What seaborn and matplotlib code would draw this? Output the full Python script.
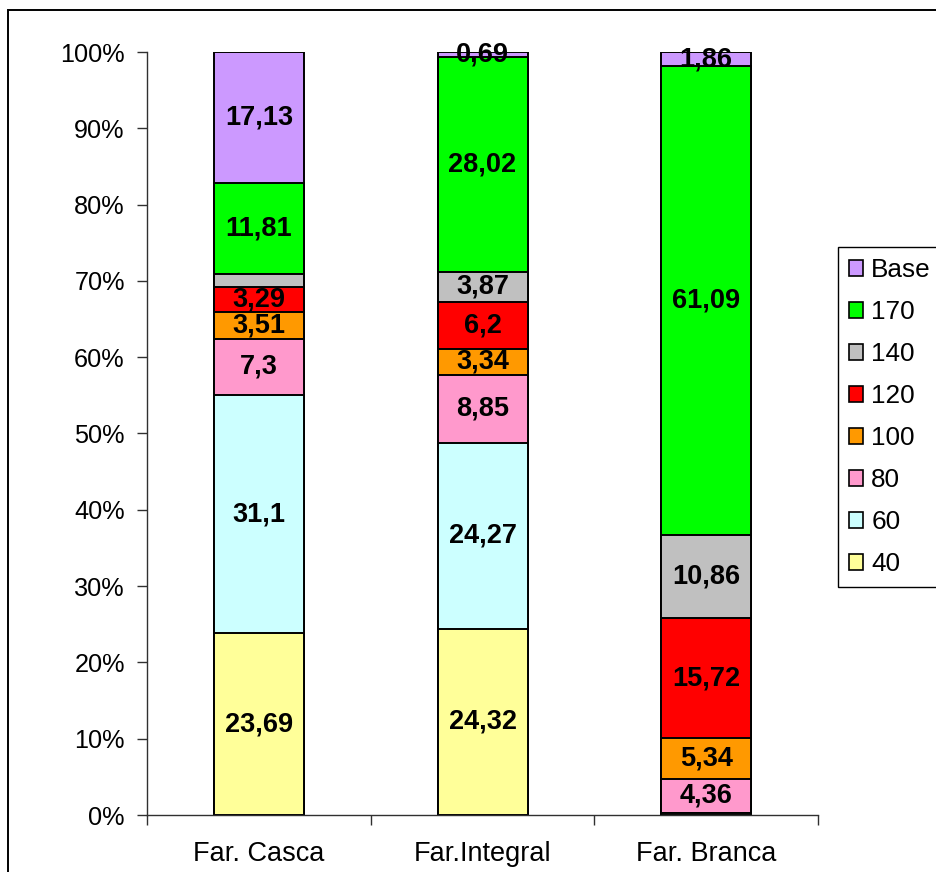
import numpy as np
import pandas as pd
import matplotlib
matplotlib.use("Agg")
import matplotlib.pyplot as plt
from matplotlib.patches import Patch, Rectangle
from matplotlib.ticker import FixedLocator, PercentFormatter
import seaborn as sns

# Flour types and sieve fractions (raw shares, shown as a 100% stack)
categories = ["Far. Casca", "Far.Integral", "Far. Branca"]
fractions = ["40", "60", "80", "100", "120", "140", "170", "Base"]

frac_40 = [23.69, 24.32, 0.20]
frac_60 = [31.10, 24.27, 0.10]
frac_80 = [7.30, 8.85, 4.36]
frac_100 = [3.51, 3.34, 5.34]
frac_120 = [3.29, 6.20, 15.72]
frac_140 = [1.70, 3.87, 10.86]
frac_170 = [11.81, 28.02, 61.09]
frac_base = [17.13, 0.69, 1.86]

# which segments carry a value label
show_label = {
    "40": [True, True, False],
    "60": [True, True, False],
    "80": [True, True, True],
    "100": [True, True, True],
    "120": [True, True, True],
    "140": [False, True, True],
    "170": [True, True, True],
    "Base": [True, True, True],
}

colors = {
    "40": "#FFFF99",
    "60": "#CCFFFF",
    "80": "#FF99CC",
    "100": "#FF9900",
    "120": "#FF0000",
    "140": "#C0C0C0",
    "170": "#00FF00",
    "Base": "#CC99FF",
}

raw = pd.DataFrame(
    [frac_40, frac_60, frac_80, frac_100, frac_120, frac_140, frac_170, frac_base],
    index=fractions, columns=categories,
)
pct = raw / raw.sum(axis=0) * 100
tops = pct.cumsum(axis=0)
bottoms = tops - pct

sns.set_style("white")
plt.rcParams["font.family"] = ["Liberation Sans", "DejaVu Sans"]
plt.rcParams["text.color"] = "black"
plt.rcParams["xtick.color"] = "black"
plt.rcParams["ytick.color"] = "black"

W, H, DPI = 936, 872, 100
fig = plt.figure(figsize=(W / DPI, H / DPI), dpi=DPI)
ax = fig.add_axes([147 / W, 1 - 815 / H, (818 - 147) / W, (815 - 52) / H])

# stacked bars: draw cumulative heights from the top layer down
bar_w = 90 / ((818 - 147) / 3)
for frac in fractions[::-1]:
    df = pd.DataFrame({"cat": categories, "val": tops.loc[frac].values})
    sns.barplot(data=df, x="cat", y="val", order=categories, color=colors[frac],
                saturation=1, width=bar_w, edgecolor="black", linewidth=1.4,
                ax=ax, zorder=2)

# value labels centered in each segment
for frac in fractions:
    for i, cat in enumerate(categories):
        if not show_label[frac][i]:
            continue
        v = raw.loc[frac, cat]
        y = bottoms.loc[frac, cat] + pct.loc[frac, cat] / 2
        txt = f"{v:g}".replace(".", ",")
        ax.text(i, y, txt, ha="center", va="center", fontsize=19.5,
                fontweight="bold", color="black", zorder=5)

ax.set_xlim(-0.5, 2.5)
ax.set_ylim(0, 100)
ax.set_xlabel("")
ax.set_ylabel("")
ax.yaxis.set_major_locator(FixedLocator(np.arange(0, 101, 10)))
ax.yaxis.set_major_formatter(PercentFormatter(decimals=0))
ax.set_xticks([0, 1, 2])
ax.set_xticklabels(categories)
ax.set_xticks([-0.5, 0.5, 1.5, 2.5], minor=True)
ax.tick_params(axis="x", which="major", length=0, pad=19, labelsize=19.5,
               labelcolor="black")
ax.tick_params(axis="x", which="minor", length=7, width=1, color="#303030",
               direction="out", bottom=True)
ax.tick_params(axis="y", which="major", length=7, width=1, color="#303030",
               direction="out", left=True, pad=9, labelsize=18.2,
               labelcolor="black")
for side in ["top", "right"]:
    ax.spines[side].set_visible(False)
for side in ["left", "bottom"]:
    ax.spines[side].set_color("#303030")
    ax.spines[side].set_linewidth(1)
ax.grid(False)

# legend (top layer first)
handles = [Patch(facecolor=colors[f], edgecolor="black", linewidth=1.2)
           for f in fractions[::-1]]
leg = fig.legend(handles, fractions[::-1], loc="upper left",
                 bbox_to_anchor=(838 / W, 1 - 247 / H), borderaxespad=0,
                 fontsize=18.8, frameon=True, fancybox=False, framealpha=1,
                 edgecolor="black", handlelength=0.55, handleheight=0.55,
                 handletextpad=0.3, labelspacing=0.69, borderpad=0.42)
leg.get_frame().set_linewidth(1.0)
for t in leg.get_texts():
    t.set_color("black")

# outer chart frame
fig.patches.append(Rectangle((8 / W, -0.05), 1.2, 1 - 10 / H + 0.05,
                             transform=fig.transFigure, fill=False,
                             edgecolor="black", linewidth=1.4))

fig.savefig("out.png", dpi=DPI)
